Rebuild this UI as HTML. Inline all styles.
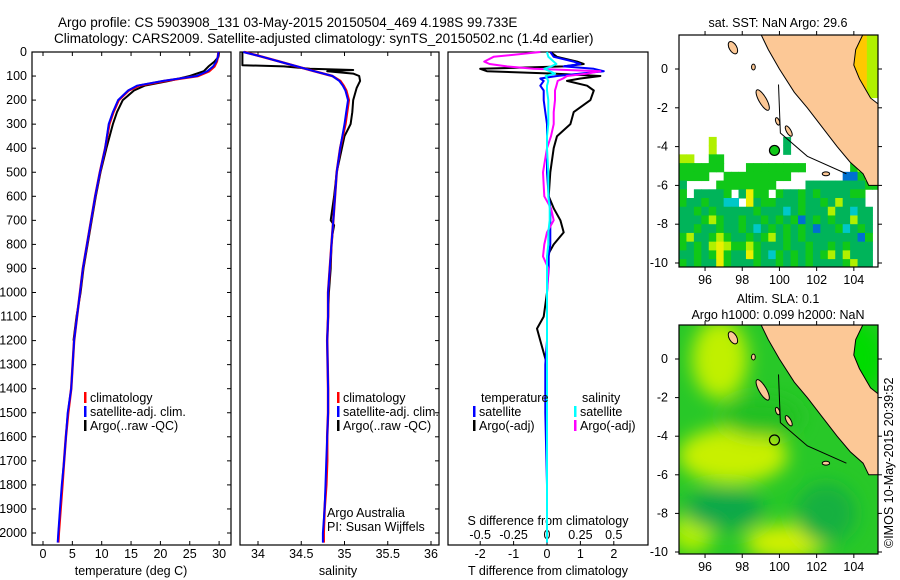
<!DOCTYPE html>
<html><head><meta charset="utf-8"><style>
body{margin:0;background:#fff;width:900px;height:580px;overflow:hidden}
svg{display:block;font-family:"Liberation Sans",sans-serif;}
text{font-size:12.5px;fill:#000}
</style></head><body>
<svg id="fig" width="900" height="580" viewBox="0 0 900 580" xmlns="http://www.w3.org/2000/svg">
<text x="58" y="27" style="font-size:13.5px">Argo profile: CS 5903908_131 03-May-2015 20150504_469 4.198S 99.733E</text>
<text x="54" y="43" style="font-size:13.5px">Climatology: CARS2009. Satellite-adjusted climatology: synTS_20150502.nc (1.4d earlier)</text>
<g id="p1"></g>
<g id="p2"></g>
<g id="p3"></g>
<g id="m1"></g>
<g id="m2"></g>
<text x="0" y="0" transform="translate(893,548) rotate(-90)" style="font-size:12.5px">©IMOS 10-May-2015 20:39:52</text>
</svg>
<script>
// ---------- data ----------
const depths   = [0,20,40,60,80,100,120,140,160,200,250,300,400,500,600,700,800,900,1000,1100,1200,1400,1500,1600,1700,1800,1900,2000,2040];
const tempClim = [29.9,29.8,29.6,29.2,28.3,26.4,20.8,16.3,14.6,12.9,12.0,11.3,10.6,9.7,8.9,8.2,7.5,6.8,6.3,5.8,5.3,4.8,4.3,3.9,3.6,3.3,3.0,2.7,2.6];
const tempSat  = [29.9,29.8,29.5,29.0,28.0,26.2,20.5,16.0,14.5,12.8,11.9,11.2,10.6,9.7,8.9,8.2,7.5,6.8,6.3,5.8,5.3,4.8,4.2,3.9,3.6,3.2,2.9,2.6,2.5];
const tempArgo = [30.0,29.9,29.2,28.2,27.4,25.0,21.5,17.3,15.5,13.6,12.6,11.9,10.8,9.8,9.0,8.3,7.6,6.9,6.4,5.7,5.2];
const salClim  = [33.84,34.05,34.25,34.45,34.65,34.86,34.95,34.99,35.02,35.05,35.03,35.01,34.95,34.91,34.89,34.87,34.85,34.83,34.81,34.81,34.80,34.81,34.81,34.80,34.80,34.79,34.77,34.76,34.76];
const salSat   = [33.83,34.05,34.25,34.45,34.65,34.86,34.94,34.98,35.01,35.04,35.02,35.00,34.95,34.91,34.89,34.87,34.85,34.83,34.81,34.81,34.80,34.81,34.81,34.80,34.79,34.78,34.77,34.75,34.75];
const argoSDepth = [0,20,40,55,60,70,75,80,90,100,120,150,200,250,300,350,400,500,600,700,720,760,800,900,1000,1100,1200];
const salArgo    = [33.82,33.82,33.82,33.82,34.3,34.6,35.1,34.8,35.1,35.17,35.18,35.14,35.10,35.09,35.07,35.00,34.97,34.91,34.88,34.84,34.88,34.86,34.85,34.84,34.82,34.81,34.80];
const diffDepth = [0,20,40,50,60,70,80,90,100,110,120,140,160,200,250,300,350,400,500,600,650,700,750,800,850,900,1000,1100,1150,1200,1300,1500,1800,2040];
const dTSat  = [0.1,0.2,0.8,1.0,0.5,1.4,1.7,1.0,0.3,-0.2,-0.1,-0.2,-0.1,-0.1,-0.05,0,0,0,0,0.05,0.1,0.1,0.1,0.1,0.05,0.05,0,0,0,0,-0.05,-0.05,0,0];
const dTArgo = [0.1,0.3,0.9,1.1,0.5,-2.0,-1.8,0.2,1.6,1.0,0.6,1.2,1.4,1.3,0.8,0.7,0.3,0.2,0.1,0.05,0.2,0.4,0.5,0.2,0,0,0,-0.1,-0.3,-0.2,0,0,0,0];
const dSSat  = [0,0.01,0.05,0.07,0.03,-0.02,0.02,0.06,-0.01,0,0.01,0,0,0.01,0.01,0.01,0,0,0.01,0.01,0.02,0.02,0.01,0.01,0,0,0,0,0,0,0,0,0,0];
const dSArgo = [-0.05,-0.4,-0.47,-0.43,-0.3,-0.1,0.4,0.3,0.15,0.12,0.08,0.07,0.06,0.06,0.05,0.05,0.03,0,-0.03,-0.02,0.03,0.05,0,-0.02,-0.03,0.01,0,0,0,0,0,0,0,0];
const depthTicks = [0,100,200,300,400,500,600,700,800,900,1000,1100,1200,1300,1400,1500,1600,1700,1800,1900,2000];
const tempTicks = [0,5,10,15,20,25,30];
const salTicks = [34,34.5,35,35.5,36];
const tdTicks = [-2,-1,0,1,2];
const sdTicks = [-0.5,-0.25,0,0.25,0.5];
const sdTickLabels = ['-0.5','-0.25','0','0.25','0.5'];
const lonTicks = [96,98,100,102,104];
const latTicks = [0,-2,-4,-6,-8,-10];
// SST grid rows from lat -3.5 downward, 0.4 x 0.45 deg cells from lon 94.6
const sstRows = [
"....y.........d.............",
"....y.........d.............",
"yy..gg..................gy..",
"gggggg...gggggggg......gyyy.",
"gggg..ggggggggg.......bbgyyy",
"d....gggggggg....ddddddddgg.",
"g.ddddg.dYgg.gddgdgddddgg...",
"gddgddcc.Ydggdddgddgdyddd...",
"ddgdgdddddgdddcdgdddyddcdd..",
"dddgygddgddgdgdgbdgdgddydd..",
"ddgddgddgdcdgdgdgdbddgcdgd..",
"gyddgygddgdgydgdgdddddddbg..",
"gdgdyYyggygdddgddgddgdgddd..",
"ddgdgYgddYgdcgdgdgdgydyddd..",
"gdgddYgdddgddgdgdgddddgydd.."];
const sstColor = {g:'#10c818',d:'#00b45a',y:'#b0f000',Y:'#eaf000',b:'#0070d0',c:'#00c8c8'};
const coast = [[99.0,1.8],[99.4,1.0],[100.0,0.0],[100.8,-1.2],[101.5,-2.0],[102.3,-3.0],[103.1,-4.0],[103.8,-4.8],[104.5,-5.4],[104.8,-6.0],[105.3,-6.0],[105.3,-1.8],[104.9,-1.5],[104.6,-1.0],[104.3,-0.5],[104.0,0.2],[104.1,1.0],[104.5,1.8]];
const islands = [[97.5,1.1,0.2,0.35,-30],[99.1,-1.6,0.2,0.6,-30],[99.9,-2.7,0.1,0.2,-20],[100.5,-3.2,0.12,0.3,-30],[102.5,-5.4,0.2,0.1,0],[98.6,0.1,0.1,0.15,0]];
const argoLon = 99.733, argoLat = -4.198;

// ---------- helpers ----------
const NS='http://www.w3.org/2000/svg';
function mk(parent,tag,attrs){const e=document.createElementNS(NS,tag);for(const k in attrs)e.setAttribute(k,attrs[k]);parent.appendChild(e);return e;}
const yD = d => 52 + 0.2405*d;
const TOP=52, BOT=545;
function panelFrame(g,x0,x1){
  const r=mk(g,'rect',{x:x0,y:TOP,width:x1-x0,height:BOT-TOP,fill:'none',stroke:'#000','stroke-width':1.2});
  
  
}
function line(g,xs,ds,xf,color,w,name){
  let p='';xs.forEach((v,i)=>{p+=(i?'L':'M')+xf(v).toFixed(1)+','+yD(ds[i]).toFixed(1);});
  const e=mk(g,'path',{d:p,fill:'none',stroke:color,'stroke-width':w,'stroke-linejoin':'round'});
  
  
}
function txt(g,x,y,s,anchor,name,size){
  const t=mk(g,'text',{x:x,y:y,'text-anchor':anchor||'start'});
  if(size)t.style.fontSize=size+'px';
  t.textContent=s;
  
  
  return t;
}
function legend(g,x,y,items,name){
  items.forEach((it,i)=>{
    const r=mk(g,'rect',{x:x,y:y+i*14-10,width:2.5,height:11,fill:it[1]});
    
    
    txt(g,x+6,y+i*14,it[0],'start',name+'-entry');
  });
}

// ---------- panel 1 ----------
const p1=document.getElementById('p1');
const xT = t => 43 + 5.87*t;
panelFrame(p1,32,231);
depthTicks.forEach(d=>{
  mk(p1,'line',{x1:32,x2:36,y1:yD(d),y2:yD(d),stroke:'#000'});
  mk(p1,'line',{x1:227,x2:231,y1:yD(d),y2:yD(d),stroke:'#000'});
  txt(p1,27,yD(d)+4,String(d),'end','depth-tick-label');
});
tempTicks.forEach(t=>{
  mk(p1,'line',{x1:xT(t),x2:xT(t),y1:BOT,y2:BOT-4,stroke:'#000'});
  mk(p1,'line',{x1:xT(t),x2:xT(t),y1:TOP,y2:TOP+4,stroke:'#000'});
  txt(p1,xT(t),558,String(t),'middle','temperature-tick-label');
});
txt(p1,131,575,'temperature (deg C)','middle','x-axis-title-temperature');
line(p1,tempArgo,depths.slice(0,tempArgo.length),xT,'#000',2,'temp-argo-line');
line(p1,tempClim,depths,xT,'#ff0000',2.5,'temp-climatology-line');
line(p1,tempSat,depths,xT,'#0000ff',2,'temp-satellite-line');
legend(p1,84,402,[['climatology','#f00'],['satellite-adj. clim.','#00f'],['Argo(..raw -QC)','#000']],'temp-legend');

// ---------- panel 2 ----------
const p2=document.getElementById('p2');
const xS = s => 258 + 86.5*(s-34);
panelFrame(p2,240,439);
salTicks.forEach(s=>{
  mk(p2,'line',{x1:xS(s),x2:xS(s),y1:BOT,y2:BOT-4,stroke:'#000'});
  mk(p2,'line',{x1:xS(s),x2:xS(s),y1:TOP,y2:TOP+4,stroke:'#000'});
  txt(p2,xS(s),558,String(s),'middle','salinity-tick-label');
});
depthTicks.forEach(d=>{mk(p2,'line',{x1:435,x2:439,y1:yD(d),y2:yD(d),stroke:'#000'});});
txt(p2,338,575,'salinity','middle','x-axis-title-salinity');
line(p2,salArgo,argoSDepth,xS,'#000',2,'sal-argo-line');
line(p2,salClim,depths,xS,'#ff0000',2.5,'sal-climatology-line');
line(p2,salSat,depths,xS,'#0000ff',2,'sal-satellite-line');
legend(p2,337,402,[['climatology','#f00'],['satellite-adj. clim.','#00f'],['Argo(..raw -QC)','#000']],'sal-legend');
txt(p2,327,517,'Argo Australia','start','institution-label');
txt(p2,327,531,'PI: Susan Wijffels','start','pi-label');

// ---------- panel 3 ----------
const p3=document.getElementById('p3');
const xTD = v => 547 + 33.4*v;
const xSD = v => 547 + 133.6*v;
panelFrame(p3,448,648);
tdTicks.forEach(v=>{
  mk(p3,'line',{x1:xTD(v),x2:xTD(v),y1:BOT,y2:BOT-4,stroke:'#000'});
  txt(p3,xTD(v),558,String(v),'middle','t-diff-tick-label');
});
sdTicks.forEach((v,i)=>{ txt(p3,xSD(v),539,sdTickLabels[i],'middle','s-diff-tick-label'); });
txt(p3,548,525,'S difference from climatology','middle','s-diff-axis-title');
txt(p3,548,575,'T difference from climatology','middle','t-diff-axis-title');
line(p3,dTArgo,diffDepth,xTD,'#000',2,'tdiff-argo-line');
line(p3,dTSat,diffDepth,xTD,'#0000ff',2,'tdiff-satellite-line');
line(p3,dSArgo,diffDepth,xSD,'#ff00ff',2,'sdiff-argo-line');
line(p3,dSSat,diffDepth,xSD,'#00ffff',2,'sdiff-satellite-line');
txt(p3,481,402,'temperature','start','diff-legend-temperature-header');
txt(p3,582,402,'salinity','start','diff-legend-salinity-header');
legend(p3,473,416,[['satellite','#00f'],['Argo(-adj)','#000']],'diff-legend-temp');
legend(p3,574,416,[['satellite','#0ff'],['Argo(-adj)','#f0f']],'diff-legend-sal');

// ---------- maps ----------
function map(id,top,bot,lat0y,latScale,fillFn,name){
  const g=document.getElementById(id);
  const L=679,R=878;
  const xL = lon => L + (lon-94.6)*18.6;
  const yL = lat => lat0y - lat*latScale;
  const cid='clip'+id;
  const cp=mk(mk(g,'defs',{}),'clipPath',{id:cid});
  mk(cp,'rect',{x:L,y:top,width:R-L,height:bot-top});
  const inner=mk(g,'g',{'clip-path':'url(#'+cid+')'});
  fillFn(inner,xL,yL,L,R,top,bot);
  let p='';coast.forEach((c,i)=>{p+=(i?'L':'M')+xL(c[0]).toFixed(1)+','+yL(c[1]).toFixed(1);});
  const land=mk(inner,'path',{d:p+'Z',fill:'#fcc896',stroke:'#000','stroke-width':1});
  
  
  islands.forEach(s=>{
    const cx=xL(s[0]),cy=yL(s[1]);
    const e=mk(inner,'ellipse',{cx:cx,cy:cy,rx:s[2]*18.6,ry:s[3]*latScale,fill:'#fcc896',stroke:'#000',transform:'rotate('+s[4]+' '+cx+' '+cy+')'});
    
    
  });
  mk(inner,'path',{d:'M'+xL(99.95)+','+yL(-0.8)+'L'+xL(100.05)+','+yL(-3.3)+'L'+xL(101.5)+','+yL(-4.5)+'L'+xL(103.6)+','+yL(-5.4),fill:'none',stroke:'#000','stroke-width':1});
  const fr=mk(g,'rect',{x:L,y:top,width:R-L,height:bot-top,fill:'none',stroke:'#000','stroke-width':1.2});
  
  
  lonTicks.forEach(v=>{
    mk(g,'line',{x1:xL(v),x2:xL(v),y1:bot,y2:bot+4,stroke:'#000'});
    mk(g,'line',{x1:xL(v),x2:xL(v),y1:top,y2:top-4,stroke:'#000'});
    txt(g,xL(v),bot+17,String(v),'middle',name+'-lon-tick-label');
  });
  latTicks.forEach(v=>{
    mk(g,'line',{x1:L,x2:L-4,y1:yL(v),y2:yL(v),stroke:'#000'});
    mk(g,'line',{x1:R,x2:R+4,y1:yL(v),y2:yL(v),stroke:'#000'});
    txt(g,L-11,yL(v)+4,String(v),'end',name+'-lat-tick-label');
  });
  return {g,xL,yL};
}
const mA = map('m1',35,267,69,19.4,(g,xL,yL,L,R,top,bot)=>{
  mk(g,'rect',{x:L,y:top,width:R-L,height:bot-top,fill:'#fff'});
  sstRows.forEach((row,r)=>{
    [...row].forEach((ch,c)=>{
      if(ch==='.')return;
      const cell=mk(g,'rect',{x:xL(94.6+c*0.4),y:yL(-3.5-r*0.45),width:0.4*18.6+0.5,height:0.45*19.4+0.5,fill:sstColor[ch]});
      
      
    });
  });
  mk(g,'rect',{x:xL(103.9),y:yL(1.8),width:R-xL(103.9),height:yL(-1.2)-yL(1.8),fill:'#ffc800'});
  mk(g,'rect',{x:xL(104.7),y:yL(1.8),width:R-xL(104.7),height:yL(-1.5)-yL(1.8),fill:'#b0f000'});
},'sst-map');
txt(mA.g,778,27,'sat. SST: NaN Argo: 29.6','middle','sst-map-title');
const mk1=mk(mA.g,'circle',{cx:mA.xL(argoLon),cy:mA.yL(argoLat),r:5,fill:'#10c818',stroke:'#000','stroke-width':1.2});



const mB = map('m2',325,554,359,19.3,(g,xL,yL,L,R,top,bot)=>{
  const defs=mk(g,'defs',{});
  const f=mk(defs,'filter',{id:'blur',x:'-50%',y:'-50%',width:'200%',height:'200%'});
  mk(f,'feGaussianBlur',{stdDeviation:9});
  mk(g,'rect',{x:L,y:top,width:R-L,height:bot-top,fill:'#28c828'});
  const bg=mk(g,'g',{filter:'url(#blur)'});
  [[97.5,-5,55,28,'#c8f000'],[96.8,0,28,40,'#c0f000'],[100.3,-9.5,40,18,'#d0f000'],[95.3,-9,22,20,'#b0f000'],[97,-7.8,40,20,'#10a848'],[102.5,-8,30,30,'#18b040'],[99,-3,40,20,'#20c020'],[103.5,0,40,40,'#00dc00']].forEach(b=>{
    mk(bg,'ellipse',{cx:xL(b[0]),cy:yL(b[1]),rx:b[2],ry:b[3],fill:b[4]});
  });
},'sla-map');
txt(mB.g,778,303,'Altim. SLA: 0.1','middle','sla-map-title-1');
txt(mB.g,778,319,'Argo h1000: 0.099 h2000: NaN','middle','sla-map-title-2');
const mk2=mk(mB.g,'circle',{cx:mB.xL(argoLon),cy:mB.yL(argoLat),r:5,fill:'none',stroke:'#000','stroke-width':1.2});


</script>
</body></html>
